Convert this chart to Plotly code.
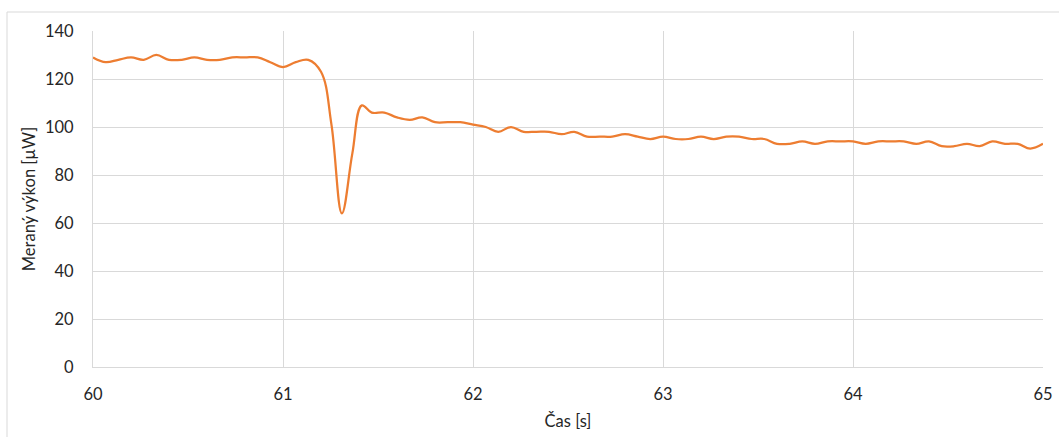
import plotly.graph_objects as go

# sample times (s) (~15 Hz logging)
time_s = [
    60.000, 60.067, 60.133, 60.200, 60.267, 60.333, 60.400, 60.467, 60.533, 60.600,
    60.667, 60.733, 60.800, 60.867, 60.933, 61.000, 61.067, 61.133, 61.200, 61.255,
    61.310, 61.365, 61.415, 61.467, 61.533, 61.600, 61.667, 61.733, 61.800, 61.867,
    61.933, 62.000, 62.067, 62.133, 62.200, 62.267, 62.333, 62.400, 62.467, 62.533,
    62.600, 62.667, 62.733, 62.800, 62.867, 62.933, 63.000, 63.067, 63.133, 63.200,
    63.267, 63.333, 63.400, 63.467, 63.533, 63.600, 63.667, 63.733, 63.800, 63.867,
    63.933, 64.000, 64.067, 64.133, 64.200, 64.267, 64.333, 64.400, 64.467, 64.533,
    64.600, 64.667, 64.733, 64.800, 64.867, 64.933, 65.000,
]
power_uW = [
    129, 127, 128, 129, 128, 130, 128, 128, 129, 128,
    128, 129, 129, 129, 127, 125, 127, 128, 123, 101,
    64, 89, 109, 106, 106, 104, 103, 104, 102, 102,
    102, 101, 100, 98, 100, 98, 98, 98, 97, 98,
    96, 96, 96, 97, 96, 95, 96, 95, 95, 96,
    95, 96, 96, 95, 95, 93, 93, 94, 93, 94,
    94, 94, 93, 94, 94, 94, 93, 94, 92, 92,
    93, 92, 94, 93, 93, 91, 93,
]
x_ticks = [60, 61, 62, 63, 64, 65]
y_ticks = [0, 20, 40, 60, 80, 100, 120, 140]

W, H = 1059, 437
L, R, T, B = 93, 16, 31, 70
pw, ph = W - L - R, H - T - B

fig = go.Figure()
fig.add_trace(go.Scatter(
    x=time_s, y=power_uW, mode="lines",
    line=dict(color="#ED7D31", width=2.25, shape="spline", smoothing=1.1),
    showlegend=False, hoverinfo="x+y",
))

font_family = "Lato, Calibri, 'Open Sans', sans-serif"
fig.update_layout(
    width=W, height=H,
    margin=dict(l=L, r=R, t=T, b=B, autoexpand=False),
    paper_bgcolor="white", plot_bgcolor="white",
    font=dict(family=font_family, color="#262626", size=16),
    xaxis=dict(
        range=[60, 65], tickvals=x_ticks, ticktext=[str(v) for v in x_ticks],
        showgrid=True, gridcolor="#D9D9D9", gridwidth=1,
        showline=True, linecolor="#D9D9D9", linewidth=1,
        zeroline=False, ticks="", ticklabelstandoff=12,
        tickfont=dict(size=16.5, color="#262626"),
        title=dict(text="Čas [s]", font=dict(size=16.5, color="#262626"), standoff=12),
    ),
    yaxis=dict(
        range=[0, 140], tickvals=y_ticks,
        showgrid=True, gridcolor="#D9D9D9", gridwidth=1,
        showline=True, linecolor="#D9D9D9", linewidth=1,
        zeroline=False, ticks="", ticklabelstandoff=15,
        tickfont=dict(size=16.5, color="#262626"),
        title=dict(text="Meraný výkon [µW]", font=dict(size=16.5, color="#262626"), standoff=5),
    ),
)

# outer chart border (light gray frame)
def px_to_paper_x(px):
    return (px - L) / pw

def px_to_paper_y(py):
    return (H - B - py) / ph

fig.add_shape(
    type="rect", xref="paper", yref="paper",
    x0=px_to_paper_x(7), x1=px_to_paper_x(W + 5),
    y0=px_to_paper_y(H + 5), y1=px_to_paper_y(12),
    line=dict(color="#D9D9D9", width=1), fillcolor="rgba(0,0,0,0)",
    layer="below",
)

fig.write_html("out.html", config={"displayModeBar": False},
               post_script="document.body.style.margin='0';")
